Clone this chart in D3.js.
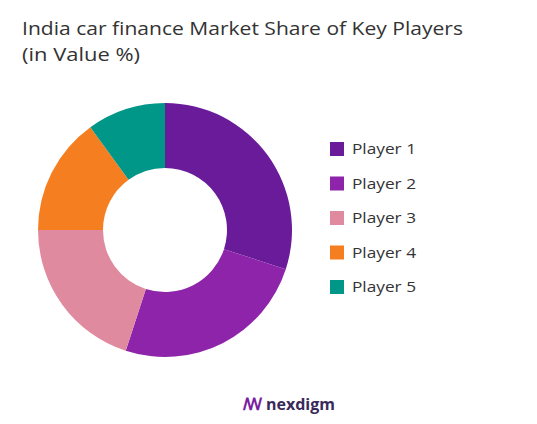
<!DOCTYPE html>
<html><head><meta charset="utf-8">
<script src="https://cdn.jsdelivr.net/npm/d3@7/dist/d3.min.js"></script>
<style>body{margin:0;background:#fff}</style></head>
<body><svg id="c" width="537" height="424"></svg>
<script>
const categories=["Player 1","Player 2","Player 3","Player 4","Player 5"];
const values=[30,25,20,15,10];
const colors=["#6a1b9a","#8e24aa","#e08aa0","#f57f20","#009688"];
const svg=d3.select("#c");
const F="'Open Sans', sans-serif";
svg.append("text").attr("x",22).attr("y",35).attr("font-family",F).attr("font-size",18).attr("fill","#333").attr("textLength",441).attr("lengthAdjust","spacingAndGlyphs").text("India car finance Market Share of Key Players");
svg.append("text").attr("x",22).attr("y",61).attr("font-family",F).attr("font-size",18).attr("fill","#333").attr("textLength",118).attr("lengthAdjust","spacingAndGlyphs").text("(in Value %)");
const g=svg.append("g").attr("transform","translate(165,230)");
const pie=d3.pie().sort(null)(values);
const arc=d3.arc().innerRadius(62).outerRadius(127);
g.selectAll("path").data(pie).join("path").attr("d",arc).attr("fill",(d,i)=>colors[i]);
const lg=svg.append("g");
categories.forEach((c,i)=>{
  const y=149+i*34.5;
  lg.append("rect").attr("x",330).attr("y",y-7).attr("width",14).attr("height",14).attr("fill",colors[i]);
  lg.append("text").attr("x",352).attr("y",y+5).attr("font-family",F).attr("font-size",15).attr("fill","#333").attr("textLength",64).attr("lengthAdjust","spacingAndGlyphs").text(c);
});
svg.append("text").attr("x",243).attr("y",410).attr("font-family",F).attr("font-size",17).attr("fill","#7a1fa2").text("ꟿ").attr("font-weight","bold");
svg.append("text").attr("x",266).attr("y",410).attr("font-family",F).attr("font-size",16).attr("font-weight","bold").attr("fill","#3a2a5a").text("nexdigm");
</script></body></html>
